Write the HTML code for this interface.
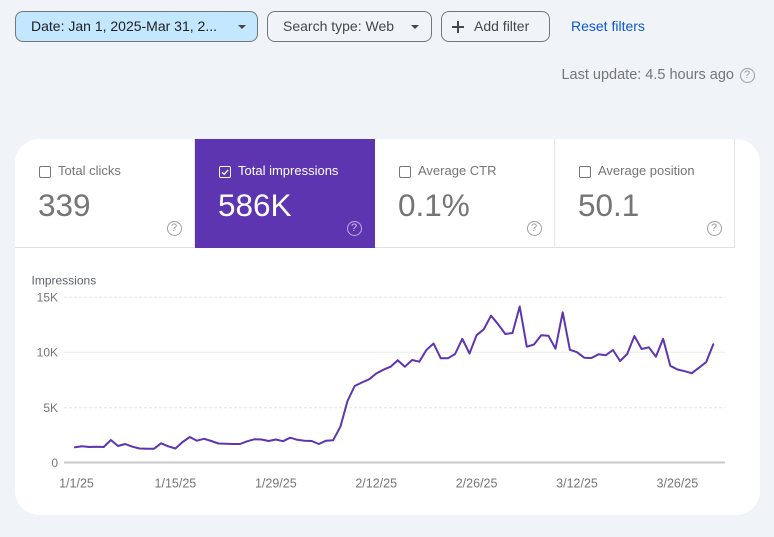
<!DOCTYPE html>
<html>
<head>
<meta charset="utf-8">
<style>
  html,body{margin:0;padding:0;}
  body{width:774px;height:537px;background:#f0f4f9;overflow:hidden;position:relative;font-family:"Liberation Sans",Arial,sans-serif;}
  .chip{position:absolute;top:11px;height:31px;box-sizing:border-box;border:1px solid #747775;border-radius:8px;font-size:14px;line-height:29px;color:#1f1f1f;white-space:nowrap;}
  .arrow{position:absolute;top:13px;width:0;height:0;border-left:4px solid transparent;border-right:4px solid transparent;border-top:4px solid #444746;}
  .card{position:absolute;left:15px;top:139px;width:745px;height:376px;background:#fff;border-radius:24px;overflow:hidden;}
  .tile{position:absolute;top:0;width:180px;height:109px;box-sizing:border-box;border-bottom:1px solid #e0e0e0;}
  .cb{position:absolute;left:24px;top:27px;width:12px;height:12px;box-sizing:border-box;border:1.5px solid #757575;border-radius:2px;}
  .lbl{position:absolute;left:43px;top:24px;font-size:13px;line-height:16px;color:#757575;white-space:nowrap;}
  .num{position:absolute;left:23px;top:51px;font-size:31.5px;line-height:31.5px;color:#757575;white-space:nowrap;}
  .help{position:absolute;left:151.5px;top:81.5px;width:15px;height:15px;box-sizing:border-box;border:1.3px solid #9e9e9e;border-radius:50%;font-size:11px;line-height:12.5px;text-align:center;color:#9e9e9e;}
</style>
</head>
<body>
  <div class="chip" style="left:15px;width:243px;background:#c2e7ff;">
    <span style="position:absolute;left:15px;">Date: Jan 1, 2025-Mar 31, 2...</span>
    <div class="arrow" style="left:222px;"></div>
  </div>
  <div class="chip" style="left:267px;width:165px;color:#444746;">
    <span style="position:absolute;left:15px;">Search type: Web</span>
    <div class="arrow" style="left:143px;"></div>
  </div>
  <div class="chip" style="left:441px;width:109px;color:#444746;">
    <div style="position:absolute;left:10px;top:14px;width:12px;height:1.6px;background:#444746;"></div>
    <div style="position:absolute;left:15.2px;top:8.5px;width:1.6px;height:12px;background:#444746;"></div>
    <span style="position:absolute;left:32px;">Add filter</span>
  </div>
  <div style="position:absolute;left:571px;top:11px;line-height:31px;font-size:14px;color:#0b57d0;">Reset filters</div>

  <div style="position:absolute;right:40px;top:66px;font-size:14.5px;line-height:18px;color:#757575;white-space:nowrap;">Last update: 4.5 hours ago</div>
  <div style="position:absolute;left:739.5px;top:67.5px;width:15px;height:15px;box-sizing:border-box;border:1.3px solid #9e9e9e;border-radius:50%;font-size:11px;line-height:12.5px;text-align:center;color:#9e9e9e;">?</div>

  <div class="card">
    <div class="tile" style="left:0;border-right:1px solid #e6e6e6;">
      <div class="cb"></div>
      <div class="lbl">Total clicks</div>
      <div class="num">339</div>
      <div class="help">?</div>
    </div>
    <div class="tile" style="left:180px;background:#5e35b1;border-bottom-color:#5e35b1;">
      <div class="cb" style="border-color:#fff;">
        <svg width="12" height="12" viewBox="0 0 12 12" style="position:absolute;left:-1.5px;top:-1.5px;"><polyline points="3,6.2 5.2,8.3 9.2,3.8" fill="none" stroke="#fff" stroke-width="1.4"/></svg>
      </div>
      <div class="lbl" style="color:#fff;">Total impressions</div>
      <div class="num" style="color:#fff;">586K</div>
      <div class="help" style="border-color:rgba(255,255,255,0.6);color:rgba(255,255,255,0.7);">?</div>
    </div>
    <div class="tile" style="left:360px;border-right:1px solid #e6e6e6;">
      <div class="cb"></div>
      <div class="lbl">Average CTR</div>
      <div class="num">0.1%</div>
      <div class="help">?</div>
    </div>
    <div class="tile" style="left:540px;border-right:1px solid #e6e6e6;">
      <div class="cb"></div>
      <div class="lbl">Average position</div>
      <div class="num">50.1</div>
      <div class="help">?</div>
    </div>
  </div>

  <svg width="774" height="537" style="position:absolute;left:0;top:0;" xmlns="http://www.w3.org/2000/svg">
    <text x="31.5" y="284.3" font-family="Liberation Sans, Arial, sans-serif" font-size="12" fill="#5f6368">Impressions</text>
    <line x1="64" y1="297.3" x2="725" y2="297.3" stroke="#e3e3e3" stroke-width="1" stroke-dasharray="3,2"/>
    <line x1="64" y1="352.3" x2="725" y2="352.3" stroke="#ebebeb" stroke-width="1"/>
    <line x1="64" y1="407.7" x2="725" y2="407.7" stroke="#e3e3e3" stroke-width="1" stroke-dasharray="3,2"/>
    <line x1="64" y1="462.5" x2="725" y2="462.5" stroke="#c8c8c8" stroke-width="2"/>
    <g font-family="Liberation Sans, Arial, sans-serif" font-size="12" fill="#757575" text-anchor="end">
      <text x="58" y="301.6">15K</text>
      <text x="58" y="356.6">10K</text>
      <text x="58" y="412">5K</text>
      <text x="58" y="466.8">0</text>
    </g>
    <g font-family="Liberation Sans, Arial, sans-serif" font-size="12.5" fill="#757575" text-anchor="middle">
      <text x="76.5" y="487.5">1/1/25</text>
      <text x="175.4" y="487.5">1/15/25</text>
      <text x="275.8" y="487.5">1/29/25</text>
      <text x="376.2" y="487.5">2/12/25</text>
      <text x="476.6" y="487.5">2/26/25</text>
      <text x="577" y="487.5">3/12/25</text>
      <text x="677.4" y="487.5">3/26/25</text>
    </g>
    <polyline fill="none" stroke="#5e35b1" stroke-width="2" stroke-linejoin="round" stroke-linecap="round" points="
75,447.3 82.2,446.3 89.3,447 96.5,446.7 103.7,447 110.9,440 118,446 125.2,444 132.4,446.7 139.6,448.5
146.7,448.8 153.9,448.8 161.1,443.3 168.2,446.3 175.4,448.5 182.6,442 189.8,437 196.9,440.7 204.1,438.8 211.3,441
218.4,443.5 225.6,443.7 232.8,444 240,444 247.1,441.3 254.3,439.3 261.5,439.5 268.6,441 275.8,439.5 283,441.2
290.2,437.7 297.3,439.8 304.5,440.7 311.7,441 318.9,444 326,440.7 333.2,440.2 340.4,426.7 347.5,401 354.7,386
361.9,382.5 369.1,379.3 376.2,373.5 383.4,369.7 390.6,366.7 397.7,360.2 404.9,366.7 412.1,360 419.3,361.7 426.4,350
433.6,343.5 440.8,358.3 447.9,358.3 455.1,354 462.3,338.8 469.5,353.5 476.6,335.2 483.8,329.3 491,315.7 498.2,324.3
505.3,334 512.5,333 519.7,306.5 526.8,346.7 534,344.5 541.2,335.3 548.4,335.7 555.5,348.7 562.7,312.3 569.9,349.8
577,352.2 584.2,357.7 591.4,358 598.6,354.3 605.7,355.3 612.9,350 620.1,361 627.2,354 634.4,336 641.6,349
648.8,347.3 655.9,356.7 663.1,338.8 670.3,365.8 677.5,369.5 684.6,371.2 691.8,373.2 699,367.7 706.1,362.2 713.3,344.3"/>
  </svg>
</body>
</html>
